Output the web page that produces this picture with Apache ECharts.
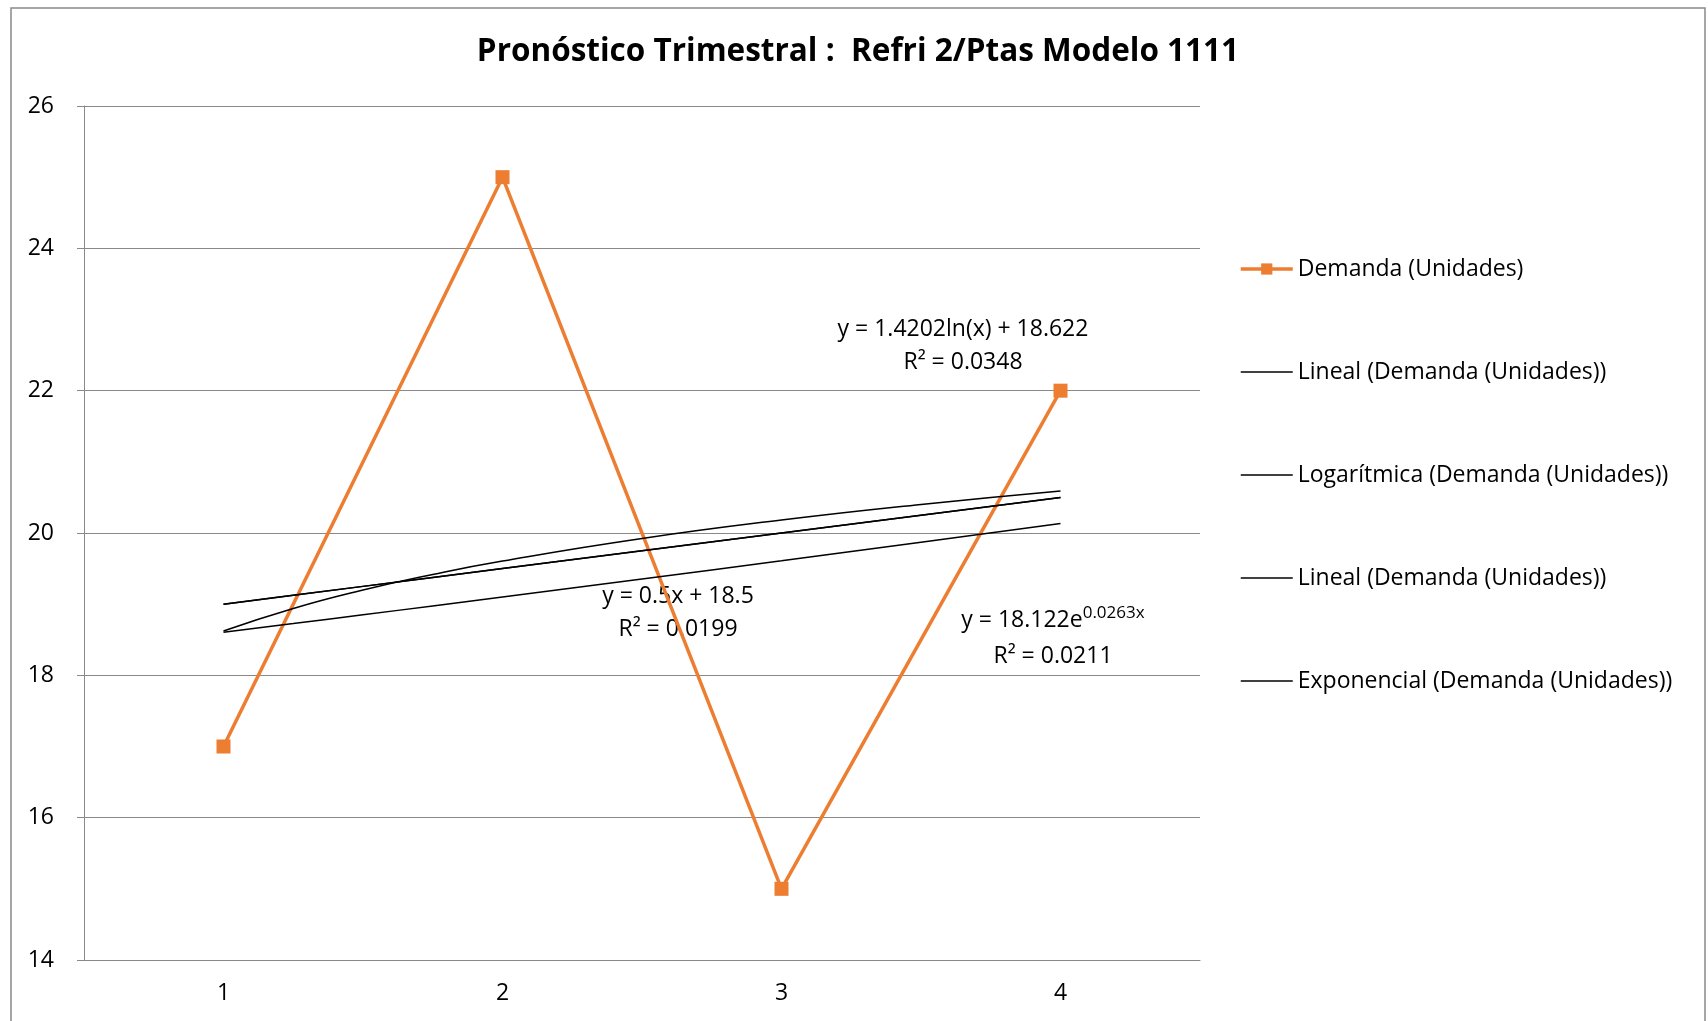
<!DOCTYPE html>
<html>
<head>
<meta charset="utf-8">
<script src="https://cdn.jsdelivr.net/npm/echarts@6/dist/echarts.min.js"></script>
<style>
  html, body { margin: 0; padding: 0; background: #fff; }
  #chart { width: 1708px; height: 1021px; }
</style>
</head>
<body>
<div id="chart"></div>
<script>
// trimestres y demanda
const quarters = ['1', '2', '3', '4']
const demanda = [17, 25, 15, 22]

// lineas de tendencia
const trendX = [1, 1.25, 1.5, 1.75, 2, 2.5, 3, 3.5, 4]
const lineal = [19, 19.125, 19.25, 19.375, 19.5, 19.75, 20, 20.25, 20.5]
const logaritmica = [18.622, 18.939, 19.198, 19.417, 19.606, 19.923, 20.182, 20.401, 20.591]
const exponencial = [18.605, 18.727, 18.851, 18.975, 19.101, 19.354, 19.61, 19.869, 20.132]

const yMin = 14, yMax = 26, yStep = 2

function pairs(xs, ys) {
  let out = []
  for (let i = 0; i < xs.length; i++) out.push([xs[i], ys[i]])
  return out
}

const FONT = 'Open Sans'
const FS = 23
const trendStyle = { color: '#000', width: 1.5 }
const hideDot = { opacity: 0 }

function eqText(x, y, text) {
  return {
    type: 'text', x: x, y: y, silent: true,
    style: { text: text, fontFamily: FONT, fontSize: FS, fill: '#000', align: 'center', verticalAlign: 'middle' }
  }
}

let option = {
  animation: false,
  textStyle: { fontFamily: FONT },
  title: {
    text: 'Pronóstico Trimestral :  Refri 2/Ptas Modelo 1111',
    left: 853,
    textAlign: 'center',
    top: 31,
    textStyle: { fontFamily: FONT, fontSize: 31.5, fontWeight: 'bold', color: '#000' }
  },
  legend: {
    orient: 'vertical',
    left: 1239,
    top: 256,
    padding: 0,
    itemWidth: 52,
    itemHeight: 14,
    itemGap: 77,
    selectedMode: false,
    formatter: n => n.trim(),
    textStyle: { fontFamily: FONT, fontSize: FS, color: '#000', lineHeight: 26 },
    data: [
      { name: 'Demanda (Unidades)', lineStyle: { width: 3.5 } },
      { name: 'Lineal (Demanda (Unidades))', itemStyle: hideDot, lineStyle: { width: 1.5 } },
      { name: 'Logarítmica (Demanda (Unidades))', itemStyle: hideDot, lineStyle: { width: 1.5 } },
      { name: 'Lineal (Demanda (Unidades)) ', itemStyle: hideDot, lineStyle: { width: 1.5 } },
      { name: 'Exponencial (Demanda (Unidades))', itemStyle: hideDot, lineStyle: { width: 1.5 } }
    ]
  },
  grid: { left: 84, right: 508, top: 106, bottom: 61 },
  xAxis: [
    {
      type: 'category',
      data: quarters,
      boundaryGap: true,
      axisLine: { lineStyle: { color: '#898989', width: 1 } },
      axisTick: { length: 7, lineStyle: { color: '#898989' } },
      axisLabel: { color: '#000', fontSize: FS, margin: 22 },
      splitLine: { show: false }
    },
    {
      type: 'value',
      min: 0.5,
      max: 4.5,
      show: false
    }
  ],
  yAxis: {
    type: 'value',
    min: yMin,
    max: yMax,
    interval: yStep,
    axisLine: { show: true, lineStyle: { color: '#898989' } },
    axisTick: { show: true, length: 7, lineStyle: { color: '#898989' } },
    axisLabel: { color: '#000', fontSize: FS, margin: 30 },
    splitLine: { lineStyle: { color: '#898989', width: 1 } }
  },
  series: [
    {
      name: 'Demanda (Unidades)',
      type: 'line',
      xAxisIndex: 1,
      data: pairs([1, 2, 3, 4], demanda),
      symbol: 'rect',
      symbolSize: 14,
      lineStyle: { color: '#ED7D31', width: 3.5 },
      itemStyle: { color: '#ED7D31' },
      z: 3
    },
    {
      name: 'Lineal (Demanda (Unidades))',
      type: 'line',
      xAxisIndex: 1,
      data: pairs(trendX, lineal),
      symbol: 'none',
      lineStyle: trendStyle,
      itemStyle: { color: '#000' }
    },
    {
      name: 'Logarítmica (Demanda (Unidades))',
      type: 'line',
      xAxisIndex: 1,
      smooth: true,
      data: pairs(trendX, logaritmica),
      symbol: 'none',
      lineStyle: trendStyle,
      itemStyle: { color: '#000' }
    },
    {
      name: 'Lineal (Demanda (Unidades)) ',
      type: 'line',
      xAxisIndex: 1,
      data: pairs(trendX, lineal),
      symbol: 'none',
      lineStyle: trendStyle,
      itemStyle: { color: '#000' }
    },
    {
      name: 'Exponencial (Demanda (Unidades))',
      type: 'line',
      xAxisIndex: 1,
      smooth: true,
      data: pairs(trendX, exponencial),
      symbol: 'none',
      lineStyle: trendStyle,
      itemStyle: { color: '#000' }
    }
  ],
  graphic: [
    {
      type: 'rect',
      shape: { x: 11, y: 8, width: 1694, height: 1040 },
      style: { fill: 'none', stroke: '#898989', lineWidth: 1.5 },
      silent: true
    },
    eqText(963, 329, 'y = 1.4202ln(x) + 18.622'),
    eqText(963, 362, 'R² = 0.0348'),
    eqText(678, 596, 'y = 0.5x + 18.5'),
    eqText(678, 629, 'R² = 0.0199'),
    {
      type: 'text', x: 1053, y: 620, silent: true,
      style: {
        text: '{a|y = 18.122e}{s|0.0263x}',
        align: 'center', verticalAlign: 'middle',
        rich: {
          a: { fontFamily: FONT, fontSize: FS, color: '#000' },
          s: { fontFamily: FONT, fontSize: 17, color: '#000', verticalAlign: 'top', padding: [0, 0, 14, 0] }
        }
      }
    },
    eqText(1053, 656, 'R² = 0.0211')
  ]
}

let myChart = echarts.init(document.getElementById('chart'))
myChart.setOption(option)
</script>
</body>
</html>
